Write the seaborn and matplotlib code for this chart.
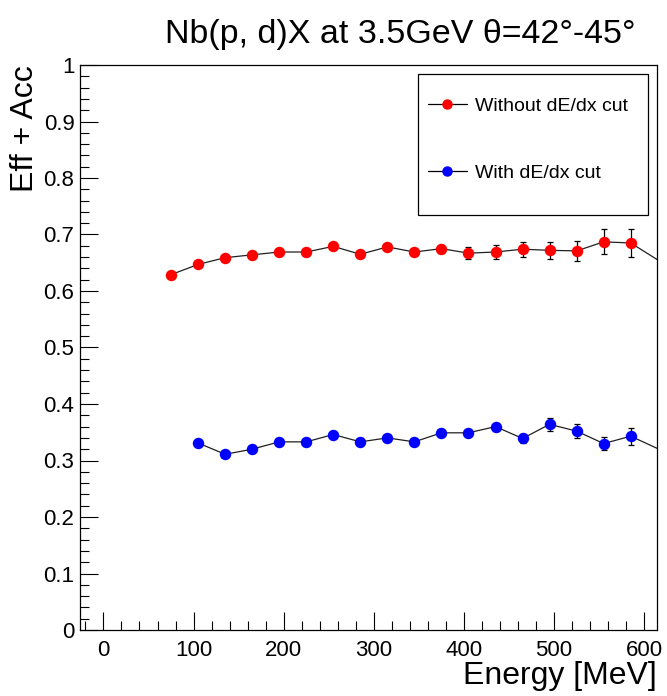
import numpy as np
import pandas as pd
import matplotlib
matplotlib.use("Agg")
import matplotlib.pyplot as plt
import matplotlib.patches as mpatches
from matplotlib.lines import Line2D
from matplotlib.ticker import MultipleLocator, FuncFormatter
import seaborn as sns

# ---------------- data ----------------
energy_red = [75, 105, 135, 165, 195, 225, 255, 285, 315, 345, 375, 405, 435, 465,
              495, 525, 555, 585, 615]
eff_red = [0.629, 0.647, 0.659, 0.664, 0.669, 0.669, 0.679, 0.665, 0.678, 0.669,
           0.675, 0.667, 0.669, 0.674, 0.672, 0.671, 0.687, 0.685, 0.655]
err_red = [0.003, 0.003, 0.004, 0.004, 0.004, 0.005, 0.005, 0.006, 0.006, 0.006,
           0.007, 0.011, 0.012, 0.013, 0.015, 0.018, 0.022, 0.024, 0.030]

energy_blue = [105, 135, 165, 195, 225, 255, 285, 315, 345, 375, 405, 435, 465,
               495, 525, 555, 585, 615]
eff_blue = [0.331, 0.311, 0.320, 0.333, 0.333, 0.346, 0.333, 0.340, 0.333, 0.349,
            0.349, 0.360, 0.339, 0.364, 0.352, 0.330, 0.343, 0.321]
err_blue = [0.004, 0.004, 0.004, 0.005, 0.005, 0.005, 0.006, 0.006, 0.006, 0.006,
            0.006, 0.007, 0.008, 0.011, 0.013, 0.012, 0.015, 0.020]

labels = ["Without dE/dx cut", "With dE/dx cut"]
colors = ["#ff0000", "#0000ff"]
title = "Nb(p, d)X at 3.5GeV \u03b8=42\u00b0-45\u00b0"
xlabel = "Energy [MeV]"
ylabel = "Eff + Acc"

XMIN, XMAX = -26, 614.5

# ---------------- style ----------------
sns.set_style("white")
plt.rcParams["font.family"] = ["Liberation Sans", "DejaVu Sans"]
plt.rcParams["text.color"] = "black"
plt.rcParams["axes.labelcolor"] = "black"
plt.rcParams["xtick.color"] = "black"
plt.rcParams["ytick.color"] = "black"

W, H = 667, 696
fig = plt.figure(figsize=(W / 100, H / 100), dpi=100)
L, R, T, B = 80, 657.3, 65, 630
ax = fig.add_axes([L / W, 1 - B / H, (R - L) / W, (B - T) / H])

df_red = pd.DataFrame({"E": energy_red, "eff": eff_red, "err": err_red})
df_blue = pd.DataFrame({"E": energy_blue, "eff": eff_blue, "err": err_blue})

for df, col in [(df_red, colors[0]), (df_blue, colors[1])]:
    sns.lineplot(data=df, x="E", y="eff", color="#202020", linewidth=0.9,
                 estimator=None, sort=False, ax=ax, legend=False, zorder=2)
    vis = df[(df["E"] > XMIN) & (df["E"] < XMAX)]
    ax.errorbar(vis["E"], vis["eff"], yerr=vis["err"], fmt="none",
                ecolor="black", elinewidth=0.9, capsize=2.2, capthick=0.9,
                zorder=3)
    sns.scatterplot(data=vis, x="E", y="eff", color=col, s=68,
                    edgecolor=col, linewidth=0, ax=ax, legend=False, zorder=4)

ax.set_xlim(XMIN, XMAX)
ax.set_ylim(0, 1)
ax.set_xlabel("")
ax.set_ylabel("")

ax.xaxis.set_major_locator(MultipleLocator(100))
ax.xaxis.set_minor_locator(MultipleLocator(20))
ax.yaxis.set_major_locator(MultipleLocator(0.1))
ax.yaxis.set_minor_locator(MultipleLocator(0.02))
ax.yaxis.set_major_formatter(FuncFormatter(lambda v, p: f"{v:g}"))

ax.tick_params(axis="both", which="both", direction="in", top=False,
               right=False, bottom=True, left=True, colors="black",
               width=0.8, labelcolor="black")
ax.tick_params(axis="both", which="major", length=13, labelsize=16)
ax.tick_params(axis="both", which="minor", length=6.5)
ax.tick_params(axis="x", which="major", pad=7)
ax.tick_params(axis="y", which="major", pad=4)

for sp in ax.spines.values():
    sp.set_visible(True)
    sp.set_color("black")
    sp.set_linewidth(0.9)

# titles / labels
fig.text(400 / W, 1 - 35 / H, title, ha="center", va="center", fontsize=24.5,
         color="black")
fig.text(657 / W, 1 - 676 / H, xlabel, ha="right", va="center", fontsize=23,
         color="black")
fig.text(25 / W, 1 - 65 / H, ylabel, ha="center", va="top", rotation=90,
         fontsize=23, color="black")

# legend
box = mpatches.Rectangle((418 / W, 1 - 215 / H), 230 / W, 141 / H,
                         transform=fig.transFigure, fill=False,
                         edgecolor="black", linewidth=0.9)
fig.add_artist(box)
handles = [Line2D([], [], color="black", linewidth=0.9, marker="o",
                  markersize=6.5, markerfacecolor=c, markeredgecolor=c)
           for c in colors]
leg = fig.legend(handles, labels, loc="upper left",
                 bbox_to_anchor=(428 / W, 1 - 97 / H),
                 bbox_transform=fig.transFigure, frameon=False, fontsize=14,
                 handlelength=2.0, handletextpad=0.4, labelspacing=2.55,
                 borderpad=0, borderaxespad=0, labelcolor="black")

fig.savefig("out.png", dpi=100, facecolor="white")
